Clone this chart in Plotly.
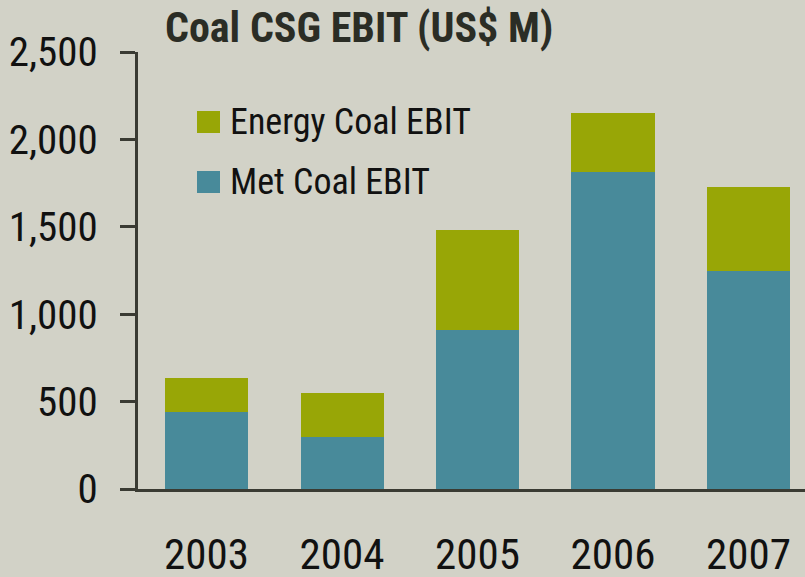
import plotly.graph_objects as go

years = ["2003", "2004", "2005", "2006", "2007"]
met_coal = [440, 297, 910, 1814, 1247]
energy_coal = [195, 252, 572, 337, 481]  # stacked on top of met coal
y_ticks = [0, 500, 1000, 1500, 2000, 2500]
y_tick_labels = ["0", "500", "1,000", "1,500", "2,000", "2,500"]
series_names = ["Energy Coal EBIT", "Met Coal EBIT"]

BG = "#D2D2C7"
OLIVE = "#98A606"
TEAL = "#488A9A"
AXIS = "#3A3B33"
FONT = "Liberation Sans Narrow, Arial Narrow, Roboto Condensed, DejaVu Sans Condensed, sans-serif"

W, H = 805, 577
ML, MR, MT, MB = 138, 0, 52, 88
PW, PH = W - ML - MR, H - MT - MB

def px_x(p):
    return (p - ML) / PW

def px_y(p):
    return (H - MB - p) / PH

fig = go.Figure()
fig.add_trace(go.Bar(x=years, y=met_coal, name=series_names[1], marker_color=TEAL,
                     marker_line_width=0, showlegend=False, hoverinfo="skip"))
fig.add_trace(go.Bar(x=years, y=energy_coal, name=series_names[0], marker_color=OLIVE,
                     marker_line_width=0, showlegend=False, hoverinfo="skip"))

# manual legend (swatches + labels)
legend_items = [(series_names[0], OLIVE, 122), (series_names[1], TEAL, 182)]
shapes = []
annotations = []
for name, col, cy in legend_items:
    shapes.append(dict(type="rect", xref="paper", yref="paper",
                       x0=px_x(197), x1=px_x(220), y0=px_y(cy + 11), y1=px_y(cy - 11),
                       fillcolor=col, line_width=0))
    annotations.append(dict(text=name, xref="paper", yref="paper", x=px_x(228), y=px_y(cy),
                            xanchor="left", yanchor="middle", showarrow=False,
                            font=dict(family=FONT, size=36, color="#111111")))

annotations.append(dict(text="<b>Coal CSG EBIT (US$ M)</b>", xref="paper", yref="paper",
                        x=px_x(163), y=px_y(28), xanchor="left", yanchor="middle",
                        showarrow=False, font=dict(family=FONT, size=42, color="#2B2D25")))

fig.update_layout(
    width=W, height=H,
    margin=dict(l=ML, r=MR, t=MT, b=MB, pad=0, autoexpand=False),
    paper_bgcolor=BG, plot_bgcolor=BG,
    barmode="stack", bargap=0.387,
    showlegend=False,
    shapes=shapes, annotations=annotations,
    font=dict(family=FONT, color="#111111"),
)
fig.update_xaxes(
    type="category", range=[-0.506, 4.417], automargin=False,
    showline=True, linecolor=AXIS, linewidth=3,
    ticks="", showgrid=False, zeroline=False,
    tickfont=dict(family=FONT, size=43, color="#111111"),
    ticklabelstandoff=25,
)
fig.update_yaxes(
    range=[0, 2500], tickvals=y_ticks, ticktext=y_tick_labels, automargin=False,
    showline=True, linecolor=AXIS, linewidth=3,
    ticks="outside", ticklen=15, tickwidth=3, tickcolor=AXIS,
    showgrid=False, zeroline=False,
    tickfont=dict(family=FONT, size=41, color="#111111"),
    ticklabelstandoff=14,
)

fig.write_html("out.html", config={"displayModeBar": False},
               post_script="document.body.style.margin='0px';document.body.style.overflow='hidden';document.body.style.background='" + BG + "';")
